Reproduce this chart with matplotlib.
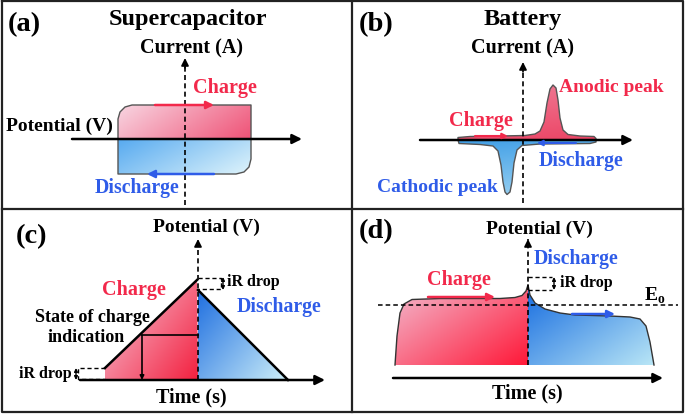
import numpy as np
import matplotlib
matplotlib.use('Agg')
import matplotlib.pyplot as plt
from matplotlib.patches import Polygon
from matplotlib.colors import to_rgb

plt.rcParams['font.family'] = ['Liberation Serif', 'DejaVu Serif']
plt.rcParams['font.weight'] = 'bold'

RED = '#f2294b'
BLUE = '#2f5ce8'

# panel (a) supercapacitor CV loop (pixel coords of the picture)
cv_charge = [(118, 139), (118, 119), (120, 112), (125, 107), (132, 105), (251, 105), (251, 139)]
cv_discharge = [(118, 139), (118, 174), (236, 174), (244, 172), (249, 167), (251, 159), (251, 139)]

# panel (b) battery CV with redox peaks
bat_anodic = [(458, 140), (458, 137.5), (470, 136.5), (500, 136), (525, 135.5), (535, 134),
              (540, 131), (544, 122), (547, 103), (550, 89), (553, 85), (556, 88), (558, 100),
              (560, 118), (563, 130), (568, 134.5), (580, 136), (594, 136.5), (596, 138.5), (596, 140)]
bat_cathodic = [(458, 140), (459, 143.5), (480, 144.5), (493, 146), (498, 151), (501, 165),
                (503, 182), (505, 192), (507, 194.5), (510, 192), (512, 182), (514, 163),
                (517, 150), (522, 145.5), (540, 144), (590, 143.5), (596, 142), (596, 140)]

# panel (c) supercapacitor GCD
gcd_charge = [(105, 380), (105, 368), (197, 280), (198, 380)]
gcd_discharge = [(198, 290), (288, 380), (198, 380)]

# panel (d) battery GCD
bgcd_charge = [(395, 365), (397, 336), (400, 313), (404, 304), (412, 299.5), (440, 298.5),
               (500, 298.5), (515, 297.5), (522, 295.5), (526, 291), (528, 285)]
bgcd_discharge = [(528, 285), (530, 295), (535, 303), (545, 309), (560, 313), (575, 315),
                  (610, 316), (630, 317), (640, 319), (646, 326), (650, 342), (654, 365)]


def gradient_fill(ax, pts, c0, c1, d=(1, 1)):
    pts = np.array(pts, dtype=float)
    x0, y0 = pts.min(axis=0)
    x1, y1 = pts.max(axis=0)
    u, v = np.meshgrid(np.linspace(0, 1, 120), np.linspace(0, 1, 120))
    t = u * d[0] + v * d[1]
    t = (t - t.min()) / (t.max() - t.min())
    a, b = np.array(to_rgb(c0)), np.array(to_rgb(c1))
    img = a[None, None, :] * (1 - t[..., None]) + b[None, None, :] * t[..., None]
    poly = Polygon(pts, closed=True, facecolor='none', edgecolor='none')
    ax.add_patch(poly)
    im = ax.imshow(img, extent=(x0, x1, y1, y0), origin='upper', aspect='auto',
                   interpolation='bilinear', zorder=1)
    im.set_clip_path(poly)


def arrow(ax, p0, p1, color='black', lw=1.8, ms=14, z=4):
    ax.annotate('', xy=p1, xytext=p0,
                arrowprops=dict(arrowstyle='-|>', color=color, lw=lw,
                                mutation_scale=ms, shrinkA=0, shrinkB=0), zorder=z)


def dashed_arrow(ax, p0, p1):
    ax.plot([p0[0], p1[0]], [p0[1], p1[1]], color='black', lw=1.2, ls=(0, (3, 2)), zorder=4)
    dy = 6 if p1[1] < p0[1] else -6
    arrow(ax, (p1[0], p1[1] + dy), p1, lw=1.2, ms=11)


def double_arrow(ax, x, y0, y1):
    ax.annotate('', xy=(x, y0), xytext=(x, y1),
                arrowprops=dict(arrowstyle='<|-|>', color='black', lw=1.0,
                                mutation_scale=5, shrinkA=0, shrinkB=0), zorder=4)


fig = plt.figure(figsize=(6.85, 4.15), dpi=100)
ax = fig.add_axes([0, 0, 1, 1])
ax.set_xlim(0, 685)
ax.set_ylim(415, 0)
ax.axis('off')

# frame
ax.plot([2, 683, 683, 2, 2], [1, 1, 412, 412, 1], color='#222222', lw=1.6)
ax.plot([352, 352], [1, 412], color='#222222', lw=1.6)
ax.plot([2, 683], [209, 209], color='#222222', lw=1.6)

# ---------- (a)
ax.text(8, 25, '(a)', fontsize=20.5, va='center', ha='left')
ax.text(188, 20, 'Supercapacitor', fontsize=17.5, va='center', ha='center')
ax.text(192, 48, 'Current (A)', fontsize=14.5, va='center', ha='center')
ax.text(6, 126, 'Potential (V)', fontsize=14, va='center', ha='left')
gradient_fill(ax, cv_charge, '#f8d6e2', '#ef5276', d=(1, 0.35))
gradient_fill(ax, cv_discharge, '#57aaf0', '#dff4fb', d=(1, 0.5))
for shp in (cv_charge, cv_discharge):
    xs, ys = zip(*shp)
    ax.plot(xs, ys, color='#555555', lw=1.0, zorder=2)
ax.plot([185, 185], [205, 66], color='black', lw=1.2, ls=(0, (3, 2)), zorder=4)
arrow(ax, (185, 68), (185, 58), lw=1.2, ms=11)
arrow(ax, (72, 139), (302, 139), lw=1.8, ms=14)
arrow(ax, (155, 105), (214, 105), color=RED, lw=1.8, ms=11)
arrow(ax, (214, 174), (147, 174), color=BLUE, lw=1.8, ms=11)
ax.text(225, 88, 'Charge', fontsize=14.5, color=RED, va='center', ha='center')
ax.text(137, 188, 'Discharge', fontsize=14.2, color=BLUE, va='center', ha='center')

# ---------- (b)
ax.text(359, 25, '(b)', fontsize=20.5, va='center', ha='left')
ax.text(523, 20, 'Battery', fontsize=17.5, va='center', ha='center')
ax.text(523, 48, 'Current (A)', fontsize=14.5, va='center', ha='center')
gradient_fill(ax, bat_anodic, '#f07f98', '#ec4465', d=(0.3, 1))
gradient_fill(ax, bat_cathodic, '#3f9ee6', '#9fd4f2', d=(0.3, 1))
for shp in (bat_anodic, bat_cathodic):
    xs, ys = zip(*shp)
    ax.plot(xs, ys, color='#555555', lw=1.0, zorder=2)
ax.plot([523, 523], [203, 70], color='black', lw=1.2, ls=(0, (3, 2)), zorder=4)
arrow(ax, (523, 72), (523, 62), lw=1.2, ms=11)
arrow(ax, (420, 140), (633, 140), lw=1.8, ms=14)
arrow(ax, (475, 136), (508, 136), color=RED, lw=1.5, ms=8)
arrow(ax, (576, 143), (537, 143), color=BLUE, lw=1.5, ms=8)
ax.text(611, 88, 'Anodic peak', fontsize=14, color=RED, va='center', ha='center')
ax.text(481, 121, 'Charge', fontsize=14.5, color=RED, va='center', ha='center')
ax.text(581, 161, 'Discharge', fontsize=14.2, color=BLUE, va='center', ha='center')
ax.text(437, 187, 'Cathodic peak', fontsize=14, color=BLUE, va='center', ha='center')

# ---------- (c)
ax.text(16, 237, '(c)', fontsize=20.5, va='center', ha='left')
ax.text(206, 227, 'Potential (V)', fontsize=14, va='center', ha='center')
gradient_fill(ax, gcd_charge, '#f6cadb', '#f3203f', d=(1, 0.8))
gradient_fill(ax, gcd_discharge, '#1f6fe0', '#cdeff9', d=(1, 0.8))
ax.plot([105, 197], [368, 280], color='black', lw=1.8, zorder=3)
ax.plot([198, 288], [290, 380], color='black', lw=1.8, zorder=3)
dashed_arrow(ax, (198, 380), (198, 239))
arrow(ax, (80, 380), (325, 380), lw=1.8, ms=14)
# iR drops
ax.plot([198, 221, 221, 198], [278, 278, 289, 289], color='black', lw=1.0, ls=(0, (3, 2)), zorder=4)
double_arrow(ax, 223, 277, 290)
ax.text(227, 282, 'iR drop', fontsize=11.5, va='center', ha='left')
ax.plot([105, 78, 78, 105], [368, 368, 379, 379], color='black', lw=1.0, ls=(0, (3, 2)), zorder=4)
double_arrow(ax, 76, 368, 380)
ax.text(72, 374, 'iR drop', fontsize=11.5, va='center', ha='right')
# state of charge
ax.plot([142, 198], [335, 335], color='black', lw=1.2, zorder=4)
arrow(ax, (142, 335), (142, 380), lw=1.2, ms=6)
ax.text(92, 317, 'State of charge', fontsize=13, va='center', ha='center')
ax.text(86, 337, 'indication', fontsize=13, va='center', ha='center')
ax.text(134, 290, 'Charge', fontsize=14.5, color=RED, va='center', ha='center')
ax.text(279, 307, 'Discharge', fontsize=14.2, color=BLUE, va='center', ha='center')
ax.text(191, 397, 'Time (s)', fontsize=14.5, va='center', ha='center')

# ---------- (d)
ax.text(359, 232, '(d)', fontsize=20.5, va='center', ha='left')
ax.text(539, 229, 'Potential (V)', fontsize=14, va='center', ha='center')
charge_poly = bgcd_charge + [(528, 365)]
discharge_poly = bgcd_discharge + [(528, 365)]
gradient_fill(ax, charge_poly, '#f3bcd0', '#ff1838', d=(1, 0.9))
gradient_fill(ax, discharge_poly, '#166ce0', '#b9e6f6', d=(1, 0.9))
for shp in (bgcd_charge, bgcd_discharge):
    xs, ys = zip(*shp)
    ax.plot(xs, ys, color='#333333', lw=1.0, zorder=3)
ax.plot([378, 678], [305, 305], color='black', lw=1.1, ls=(0, (3, 2)), zorder=4)
ax.text(644, 296, 'E$_\\mathregular{o}$', fontsize=14, va='center', ha='left')
dashed_arrow(ax, (528, 365), (528, 239))
ax.plot([528, 552], [277, 277], color='black', lw=1.0, ls=(0, (3, 2)), zorder=4)
ax.plot([528, 552], [290, 290], color='black', lw=1.0, ls=(0, (3, 2)), zorder=4)
double_arrow(ax, 554, 277, 290)
ax.text(560, 283, 'iR drop', fontsize=11.5, va='center', ha='left')
arrow(ax, (428, 297), (495, 297), color=RED, lw=1.8, ms=11)
arrow(ax, (572, 314), (615, 314), color=BLUE, lw=1.8, ms=11)
ax.text(459, 280, 'Charge', fontsize=14.5, color=RED, va='center', ha='center')
ax.text(576, 259, 'Discharge', fontsize=14.2, color=BLUE, va='center', ha='center')
arrow(ax, (393, 378), (663, 378), lw=1.8, ms=14)
ax.text(527, 393, 'Time (s)', fontsize=14.5, va='center', ha='center')

fig.savefig('out.png', dpi=100)
